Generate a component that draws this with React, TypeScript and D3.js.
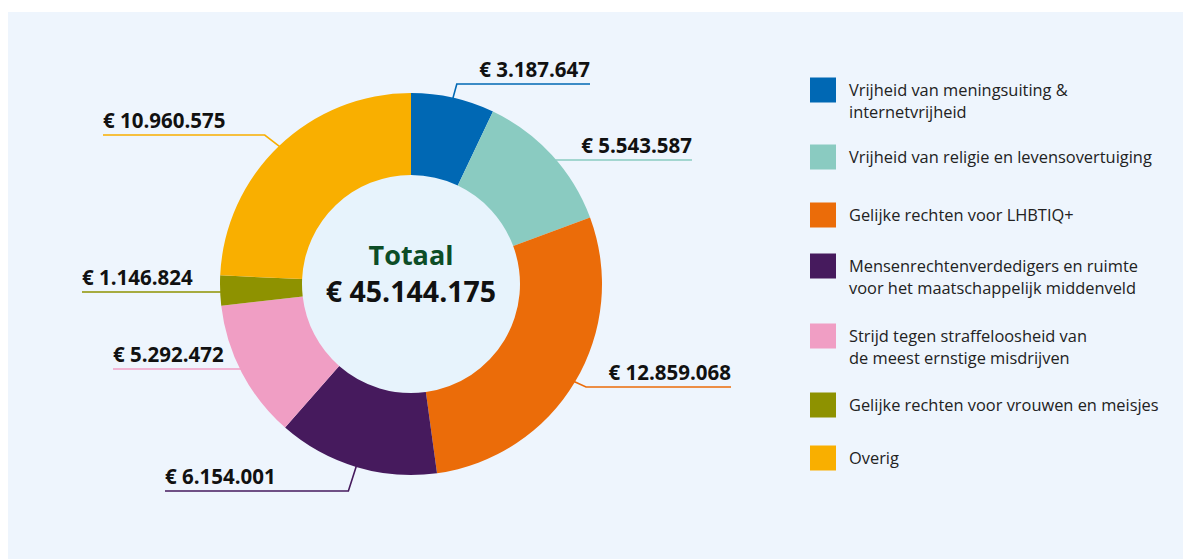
import React from "react";
import * as d3 from "d3";

const categories = [
  "Vrijheid van meningsuiting & internetvrijheid",
  "Vrijheid van religie en levensovertuiging",
  "Gelijke rechten voor LHBTIQ+",
  "Mensenrechtenverdedigers en ruimte voor het maatschappelijk middenveld",
  "Strijd tegen straffeloosheid van de meest ernstige misdrijven",
  "Gelijke rechten voor vrouwen en meisjes",
  "Overig",
];
const legendLines = [
  ["Vrijheid van meningsuiting &", "internetvrijheid"],
  ["Vrijheid van religie en levensovertuiging"],
  ["Gelijke rechten voor LHBTIQ+"],
  ["Mensenrechtenverdedigers en ruimte", "voor het maatschappelijk middenveld"],
  ["Strijd tegen straffeloosheid van", "de meest ernstige misdrijven"],
  ["Gelijke rechten voor vrouwen en meisjes"],
  ["Overig"],
];
const values = [3187647, 5543587, 12859068, 6154001, 5292472, 1146824, 10960575];
const valueLabels = [
  "€ 3.187.647",
  "€ 5.543.587",
  "€ 12.859.068",
  "€ 6.154.001",
  "€ 5.292.472",
  "€ 1.146.824",
  "€ 10.960.575",
];
const totalLabel = "€ 45.144.175";
const colors = ["#0068B4", "#8ACBC1", "#EB6C09", "#461A5D", "#F09EC4", "#8E9200", "#F9AF00"];

// label layout (line y, line end x, elbow x offset)
const labelLayout = [
  { lineY: 84, endX: 590, elbow: 4 },
  { lineY: 160, endX: 692, elbow: 0 },
  { lineY: 387, endX: 731, elbow: 12 },
  { lineY: 491, endX: 165, elbow: -8 },
  { lineY: 369, endX: 113, elbow: 0 },
  { lineY: 292, endX: 82, elbow: 0 },
  { lineY: 135, endX: 103, elbow: -15 },
];
const legendY = [90, 157, 215, 266, 336, 405, 458];

const W = 1183;
const H = 559;
const cx = 411;
const cy = 284;
const outerR = 191;
const innerR = 109;
const FONT = "'Open Sans', 'Noto Sans', sans-serif";

export default function App() {
  const pie = d3.pie<number>().sort(null).value((d) => d)(values);
  const arc = d3.arc<d3.PieArcDatum<number>>().innerRadius(innerR).outerRadius(outerR);

  return (
    <svg
      width={W}
      height={H}
      style={{ position: "absolute", left: 0, top: 0, fontFamily: FONT }}
    >
      <rect x={0} y={0} width={W} height={H} fill="#ffffff" />
      <rect x={8} y={12} width={W - 8} height={H - 12} fill="#EEF5FD" />
      <g transform={`translate(${cx},${cy})`}>
        <circle r={innerR} fill="#E7F3FC" />
        {pie.map((p, i) => (
          <path key={i} d={arc(p) || ""} fill={colors[i]} />
        ))}
      </g>
      {pie.map((p, i) => {
        const a = (p.startAngle + p.endAngle) / 2;
        const L = labelLayout[i];
        const right = Math.sin(a) > 0;
        const ax = cx + (outerR - 1) * Math.sin(a);
        const ay = cy - (outerR - 1) * Math.cos(a);
        let pts: [number, number][];
        if (L.elbow === 0) {
          const dy = L.lineY - cy;
          const dx = Math.sqrt(outerR * outerR - dy * dy) - 1;
          const sx = cx + (right ? dx : -dx);
          pts = [
            [sx, L.lineY],
            [L.endX, L.lineY],
          ];
        } else {
          pts = [
            [ax, ay],
            [ax + L.elbow, L.lineY],
            [L.endX, L.lineY],
          ];
        }
        const line = d3.line()(pts) || "";
        return (
          <g key={i}>
            <path d={line} fill="none" stroke={colors[i]} strokeWidth={1.6} />
            <text
              x={L.endX}
              y={L.lineY - 7}
              textAnchor={right ? "end" : "start"}
              fontSize={20.5}
              fontWeight={700}
              fill="#111"
            >
              {valueLabels[i]}
            </text>
          </g>
        );
      })}
      <text x={cx} y={265} textAnchor="middle" fontSize={27} fontWeight={700} fill="#0D4D26">
        Totaal
      </text>
      <text x={cx} y={302} textAnchor="middle" fontSize={28.5} fontWeight={700} fill="#111">
        {totalLabel}
      </text>
      {categories.map((c, i) => {
        const lines = legendLines[i];
        const y0 = legendY[i];
        return (
          <g key={c}>
            <rect x={810} y={y0 - 12.5} width={26} height={25} fill={colors[i]} />
            {lines.map((ln, j) => (
              <text key={j} x={849} y={y0 + 6 + j * 22} fontSize={16.4} fill="#222">
                {ln}
              </text>
            ))}
          </g>
        );
      })}
    </svg>
  );
}
